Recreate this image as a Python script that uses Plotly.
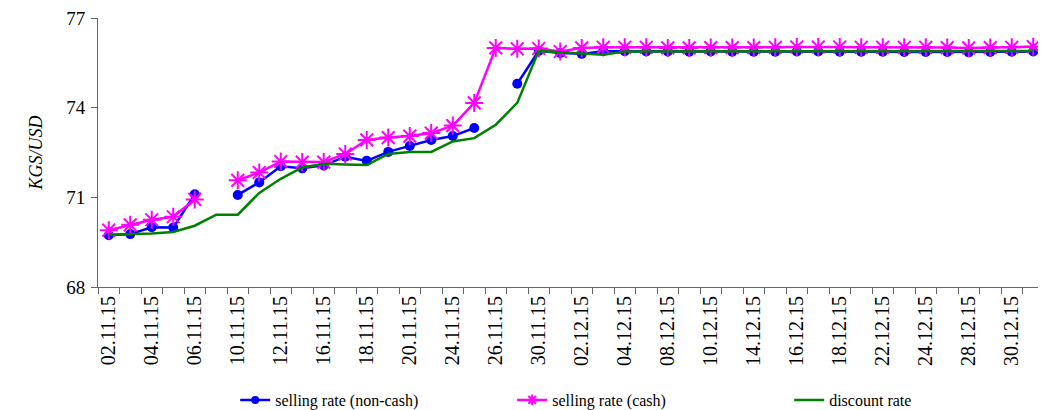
import plotly.graph_objects as go

dates = ["02.11.15", "03.11.15", "04.11.15", "05.11.15", "06.11.15", "09.11.15",
         "10.11.15", "11.11.15", "12.11.15", "13.11.15", "16.11.15", "17.11.15",
         "18.11.15", "19.11.15", "20.11.15", "23.11.15", "24.11.15", "25.11.15",
         "26.11.15", "27.11.15", "30.11.15", "01.12.15", "02.12.15", "03.12.15",
         "04.12.15", "07.12.15", "08.12.15", "09.12.15", "10.12.15", "11.12.15",
         "14.12.15", "15.12.15", "16.12.15", "17.12.15", "18.12.15", "21.12.15",
         "22.12.15", "23.12.15", "24.12.15", "25.12.15", "28.12.15", "29.12.15",
         "30.12.15", "31.12.15"]

non_cash = [69.73, 69.77, 70.00, 69.99, 71.10, None,
            71.08, 71.50, 72.04, 71.97, 72.07, 72.36,
            72.22, 72.52, 72.72, 72.92, 73.05, 73.32,
            None, 74.80, 75.90, 75.83, 75.80, 75.89,
            75.89, 75.88, 75.88, 75.87, 75.88, 75.87,
            75.87, 75.87, 75.88, 75.88, 75.87, 75.87,
            75.87, 75.86, 75.86, 75.86, 75.85, 75.86,
            75.87, 75.88]

cash = [69.90, 70.08, 70.25, 70.35, 70.93, None,
        71.57, 71.83, 72.20, 72.18, 72.18, 72.45,
        72.92, 73.00, 73.05, 73.15, 73.40, 74.16,
        76.00, 75.97, 75.98, 75.88, 76.00, 76.02,
        76.02, 76.02, 76.00, 76.00, 76.01, 76.01,
        76.01, 76.02, 76.03, 76.03, 76.03, 76.02,
        76.02, 76.02, 76.02, 76.01, 76.00, 76.01,
        76.02, 76.04]

discount = [69.75, 69.76, 69.79, 69.84, 70.05, 70.42,
            70.42, 71.15, 71.62, 72.00, 72.12, 72.10,
            72.08, 72.45, 72.52, 72.52, 72.87, 72.98,
            73.43, 74.16, 75.90, 75.85, 75.80, 75.77,
            75.88, 75.88, 75.88, 75.88, 75.89, 75.89,
            75.89, 75.90, 75.90, 75.90, 75.89, 75.89,
            75.90, 75.90, 75.90, 75.90, 75.89, 75.89,
            75.89, 75.90]

series_names = ["selling rate (non-cash)", "selling rate (cash)", "discount rate"]

tick_text = [d if i % 2 == 0 else "" for i, d in enumerate(dates)]

FONT = "Liberation Serif, Times New Roman, serif"
BLUE, MAGENTA, GREEN = "#0000FF", "#FF00FF", "#008000"

fig = go.Figure()
# data traces
fig.add_trace(go.Scatter(
    x=dates, y=non_cash, name=series_names[0], mode="lines+markers", showlegend=False,
    line=dict(color=BLUE, width=2.5),
    marker=dict(symbol="circle", size=10, color=BLUE)))
fig.add_trace(go.Scatter(
    x=dates, y=cash, name=series_names[1], mode="lines+markers", showlegend=False,
    line=dict(color=MAGENTA, width=2.5),
    marker=dict(symbol="asterisk-open", size=15, line=dict(color=MAGENTA, width=2))))
fig.add_trace(go.Scatter(
    x=dates, y=discount, name=series_names[2], mode="lines", showlegend=False,
    line=dict(color=GREEN, width=2.5)))
# legend entries (smaller legend symbols as in the reference)
fig.add_trace(go.Scatter(
    x=[None], y=[None], name=series_names[0], mode="lines+markers",
    line=dict(color=BLUE, width=2.5), marker=dict(symbol="circle", size=8, color=BLUE)))
fig.add_trace(go.Scatter(
    x=[None], y=[None], name=series_names[1], mode="lines+markers",
    line=dict(color=MAGENTA, width=2.5),
    marker=dict(symbol="asterisk-open", size=9, line=dict(color=MAGENTA, width=2))))
fig.add_trace(go.Scatter(
    x=[None], y=[None], name=series_names[2], mode="lines",
    line=dict(color=GREEN, width=2.5)))

fig.update_layout(
    width=1038, height=402,
    margin=dict(l=90, r=2, t=10, b=123, autoexpand=False),
    paper_bgcolor="white", plot_bgcolor="white",
    font=dict(family=FONT, size=16, color="black"),
    showlegend=True,
    legend=dict(orientation="h", x=0.145, xanchor="left", y=-0.42, yanchor="middle",
                font=dict(family=FONT, size=16), entrywidth=232,
                entrywidthmode="pixels"),
    xaxis=dict(type="category", tickmode="array", tickvals=dates, ticktext=tick_text,
               range=[-0.5, len(dates) - 0.5],
               tickson="boundaries", ticks="outside", ticklen=6, tickcolor="#666666",
               tickangle=-90, tickfont=dict(family=FONT, size=20),
               showline=True, linecolor="#666666", linewidth=1,
               showgrid=False, zeroline=False, automargin=False),
    yaxis=dict(range=[68, 77], dtick=3, tick0=68, ticks="outside", ticklen=6,
               tickcolor="#666666", showline=True, linecolor="#666666", linewidth=1,
               showgrid=False, zeroline=False, tickfont=dict(family=FONT, size=19),
               ticklabelstandoff=2, ticklabeloverflow="allow", automargin=False,
               title=dict(text="<i>KGS/USD</i>", font=dict(family=FONT, size=18),
                          standoff=18)),
)

fig.write_html("out.html")
